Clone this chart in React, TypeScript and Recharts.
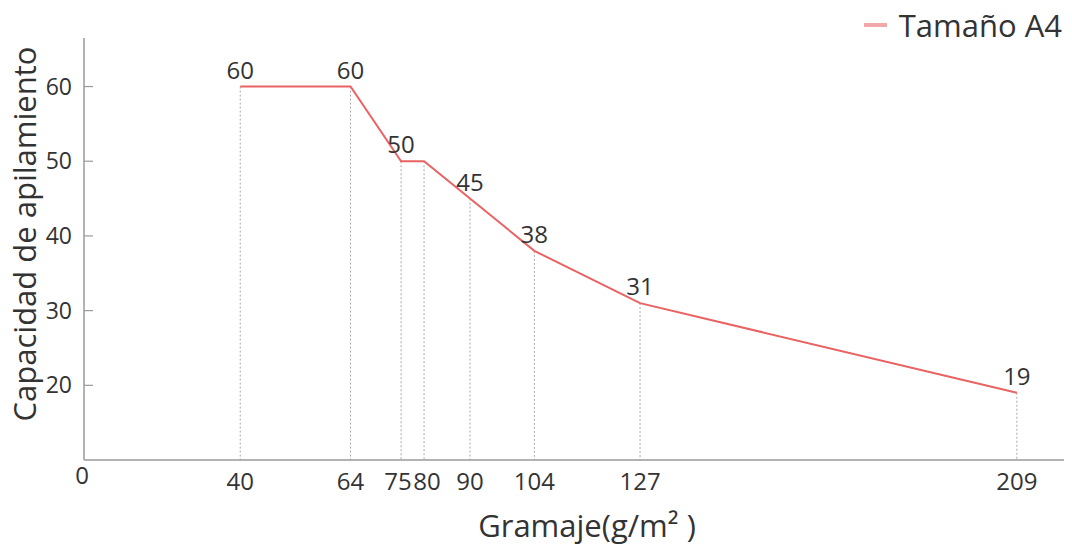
import React from 'react';
import { LineChart, Line, XAxis, YAxis, Legend, LabelList, ReferenceLine, Label } from 'recharts';

const gramaje = [40, 64, 75, 80, 90, 104, 127, 209];
const capacidad = [60, 60, 50, 50, 45, 38, 31, 19];
const pointLabels = ['60', '60', '50', '', '45', '38', '31', '19'];
const xTicks = [40, 64, 75, 80, 90, 104, 127, 209];
const yTicks = [20, 30, 40, 50, 60];
const seriesName = 'Tamaño A4';
const xTitle = 'Gramaje(g/m² )';
const yTitle = 'Capacidad de apilamiento';
const originLabel = '0';

const data = gramaje.map((g, i) => ({ g, v: capacidad[i], lbl: pointLabels[i] }));

const FONT = "'Open Sans', sans-serif";
const TEXT = '#333333';
const AXIS = '#9a9a9a';
const LINE = '#ea6262';
const Y_MIN = 10;
// small horizontal nudges so that adjacent tick labels 75 / 80 do not collide (as in the reference)
const tickNudge: Record<number, number> = { 75: -3, 80: 3 };

const XTick = (props: any) => {
  const { x, y, payload } = props;
  const nudge = tickNudge[payload.value] || 0;
  return (
    <text x={x + nudge} y={y} dy="0.71em" textAnchor="middle" fontFamily={FONT} fontSize={24} fill={TEXT}>
      {payload.value}
    </text>
  );
};

const renderLegend = (props: any) => {
  const item = props.payload && props.payload[0];
  return (
    <div
      style={{
        display: 'flex',
        justifyContent: 'flex-end',
        alignItems: 'center',
        height: 30,
        paddingRight: 10,
        fontFamily: FONT,
        fontSize: 31,
        color: TEXT,
        position: 'relative',
        top: 2,
      }}
    >
      <svg width={23} height={6} style={{ marginRight: 12 }}>
        <line x1={0} y1={3} x2={23} y2={3} stroke="#f3a9a9" strokeWidth={4} />
      </svg>
      <span>{item ? item.value : seriesName}</span>
    </div>
  );
};

const renderXTitle = (props: any) => {
  const vb = props.viewBox;
  return (
    <text x={vb.x + vb.width / 2 + 9} y={vb.y + 77} textAnchor="middle" fontFamily={FONT} fontSize={31} fill={TEXT}>
      {xTitle}
    </text>
  );
};

const renderOrigin = (props: any) => {
  const vb = props.viewBox;
  return (
    <text x={vb.x - 2} y={vb.y + 7} dy="0.71em" textAnchor="middle" fontFamily={FONT} fontSize={24} fill={TEXT}>
      {originLabel}
    </text>
  );
};

const renderYTitle = (props: any) => {
  const vb = props.viewBox;
  const cx = vb.x + 36;
  const cy = vb.y + vb.height / 2 - 15;
  return (
    <text
      x={cx}
      y={cy}
      transform={`rotate(-90, ${cx}, ${cy})`}
      textAnchor="middle"
      fontFamily={FONT}
      fontSize={31}
      fill={TEXT}
    >
      {yTitle}
    </text>
  );
};

export default function App() {
  return (
    <div style={{ width: 1072, height: 549, marginTop: -8, marginLeft: -8, fontFamily: FONT }}>
      <LineChart width={1072} height={549} data={data} margin={{ top: 8, right: 0, bottom: 0, left: 0 }}>
        <Legend verticalAlign="top" align="right" content={renderLegend} />
        <XAxis
          dataKey="g"
          type="number"
          domain={[6, 221]}
          ticks={xTicks}
          interval={0}
          tickLine={false}
          tickSize={0}
          tickMargin={13}
          height={89}
          axisLine={{ stroke: AXIS, strokeWidth: 1.5 }}
          tick={<XTick />}
        >
          <Label content={renderXTitle} />
          <Label content={renderOrigin} />
        </XAxis>
        <YAxis
          type="number"
          domain={[Y_MIN, 66.5]}
          ticks={yTicks}
          interval={0}
          width={84}
          tickSize={-9}
          tickMargin={21}
          axisLine={{ stroke: AXIS, strokeWidth: 1.5 }}
          tickLine={{ stroke: AXIS, strokeWidth: 1.2 }}
          tick={{ fill: TEXT, fontSize: 23, fontFamily: FONT }}
        >
          <Label content={renderYTitle} />
        </YAxis>
        {data.map((d) => (
          <ReferenceLine
            key={d.g}
            segment={[{ x: d.g, y: d.v }, { x: d.g, y: Y_MIN }]}
            stroke="#a8a8a8"
            strokeWidth={1}
            strokeDasharray="2 2"
          />
        ))}
        <Line
          dataKey="v"
          name={seriesName}
          type="linear"
          stroke={LINE}
          strokeWidth={2}
          dot={false}
          activeDot={false}
          isAnimationActive={false}
        >
          <LabelList dataKey="lbl" position="top" offset={8} fill={TEXT} fontSize={24} fontFamily={FONT} />
        </Line>
      </LineChart>
    </div>
  );
}
